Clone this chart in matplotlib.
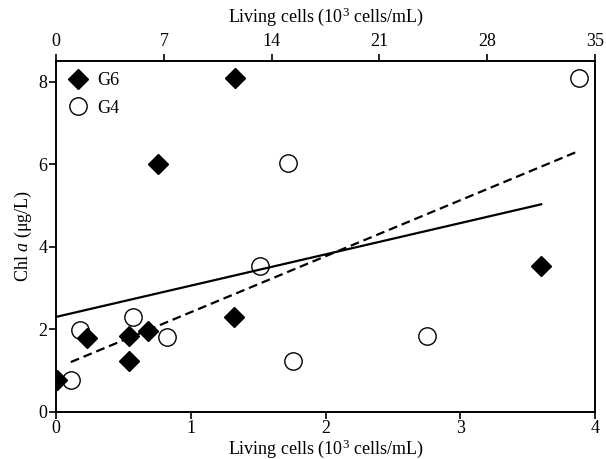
import numpy as np
import matplotlib
matplotlib.use('Agg')
import matplotlib.pyplot as plt

plt.rcParams['font.family'] = ['Liberation Serif', 'DejaVu Serif']
plt.rcParams['mathtext.fontset'] = 'custom'
plt.rcParams['mathtext.rm'] = 'Liberation Serif'
plt.rcParams['mathtext.it'] = 'Liberation Serif:italic'

# G6 (filled diamonds), living cells in 10^3 cells/mL (bottom axis)
g6_x = [0.01, 0.23, 0.54, 0.54, 0.68, 0.76, 1.32, 1.33, 3.60]
g6_y = [0.78, 1.80, 1.24, 1.83, 1.97, 6.00, 2.30, 8.10, 3.53]

# G4 (open circles)
g4_x = [0.11, 0.18, 0.57, 0.82, 1.51, 1.72, 1.76, 2.75, 3.88]
g4_y = [0.77, 1.99, 2.31, 1.81, 3.53, 6.02, 1.24, 1.83, 8.08]

top_ticks = [0, 7, 14, 21, 28, 35]
top_scale = 35 / 4.0

fig = plt.figure(figsize=(6.06, 4.59), dpi=100)
ax = fig.add_axes([0.0924, 0.1024, 0.8896, 0.7646])

ax.plot(g6_x, g6_y, 'D', ms=10, mfc='black', mec='black', ls='none', label='G6', zorder=3)
ax.plot(g4_x, g4_y, 'o', ms=12.5, mfc='none', mec='black', mew=1.0, ls='none', label='G4', zorder=3)

# linear fits
for xs, ys, ls in [(g6_x, g6_y, '-'), (g4_x, g4_y, '--')]:
    k, b = np.polyfit(xs, ys, 1)
    xx = np.array([min(xs), max(xs)])
    ax.plot(xx, k * xx + b, ls, color='black', lw=1.6, dashes=(4, 2.2) if ls == '--' else (None, None), zorder=2)

ax.set_xlim(0, 4)
ax.set_ylim(0, 8.5)
ax.set_xticks([0, 1, 2, 3, 4])
ax.set_yticks([0, 2, 4, 6, 8])
ax.tick_params(direction='out', length=5, width=1.2, labelsize=13, pad=1)
ax.set_xlabel(r'Living cells (10$^3$ cells/mL)', fontsize=13, labelpad=0)
ax.set_ylabel(r'Chl $\mathit{a}$ (μg/L)', fontsize=13, labelpad=3)

ax2 = ax.twiny()
ax2.set_xlim(0, 4)
ax2.set_xticks([t / top_scale for t in top_ticks])
ax2.set_xticklabels([str(t) for t in top_ticks])
ax2.tick_params(direction='out', length=5, width=1.2, labelsize=13, pad=3)
ax2.set_xlabel(r'Living cells (10$^3$ cells/mL)', fontsize=13, labelpad=8)

for a in (ax, ax2):
    for s in a.spines.values():
        s.set_linewidth(1.2)

ax.legend(loc='upper left', frameon=False, fontsize=13, handletextpad=0.5,
          borderaxespad=0.2, labelspacing=0.6, handlelength=1.2)

fig.savefig('out.png', dpi=100)
